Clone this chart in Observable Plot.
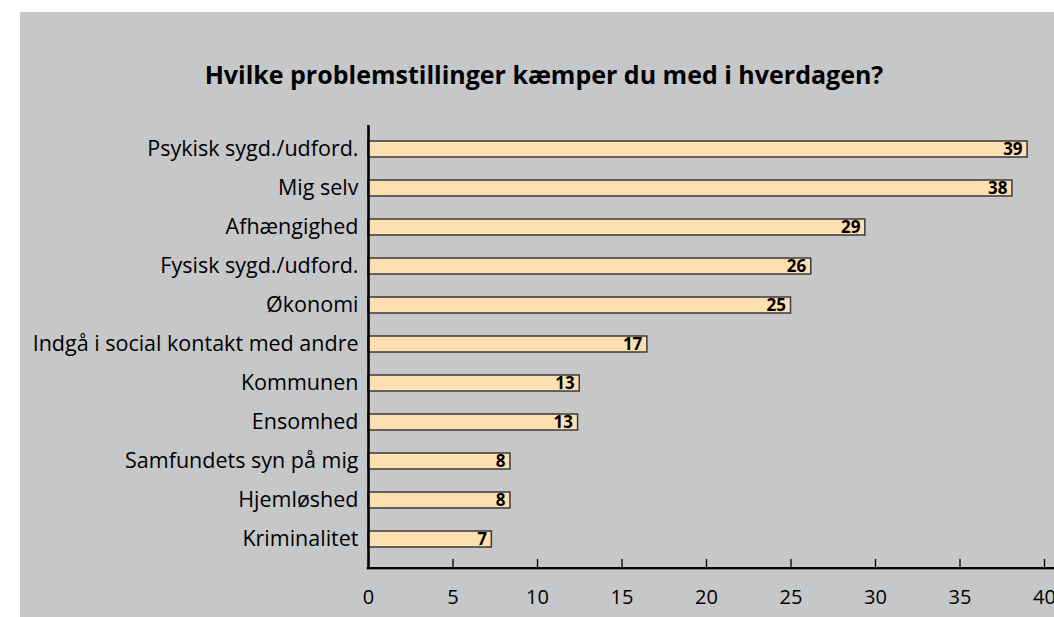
<!DOCTYPE html>
<html><head><meta charset="utf-8">
<script src="https://cdn.jsdelivr.net/npm/d3@7"></script>
<script src="https://cdn.jsdelivr.net/npm/@observablehq/plot@0.6"></script>
<style>
html,body{margin:0;padding:0;background:#fff;width:1054px;height:617px;overflow:hidden;}
#panel{position:absolute;left:20px;top:12px;width:1034px;height:605px;background:#c6c7c9;overflow:hidden;}
#title{position:absolute;left:0;top:47px;width:1034px;padding-left:14px;box-sizing:border-box;text-align:center;font-family:"Open Sans",sans-serif;font-weight:700;font-size:25px;line-height:30px;color:#000;white-space:nowrap;}
#chart{position:absolute;left:0;top:100px;}
</style></head><body>
<div id="panel"><div id="title">Hvilke problemstillinger kæmper du med i hverdagen?</div><div id="chart"></div></div>
<script>
const categories = [
  "Psykisk sygd./udford.",
  "Mig selv",
  "Afhængighed",
  "Fysisk sygd./udford.",
  "Økonomi",
  "Indgå i social kontakt med andre",
  "Kommunen",
  "Ensomhed",
  "Samfundets syn på mig",
  "Hjemløshed",
  "Kriminalitet"
];
const values = [39.0, 38.1, 29.4, 26.2, 25.0, 16.5, 12.5, 12.4, 8.4, 8.4, 7.3];
const labels = [39, 38, 29, 26, 25, 17, 13, 13, 8, 8, 7];
const xTicks = [0, 5, 10, 15, 20, 25, 30, 35, 40];

const data = categories.map((c, i) => ({category: c, value: values[i], label: labels[i]}));

const W = 1034, H = 505, mT = 13, mB = 49;
const frameH = H - mT - mB;

const plot = Plot.plot({
  width: W, height: H,
  marginTop: mT, marginBottom: mB, marginLeft: 348, marginRight: 10,
  style: {background: "transparent", fontFamily: "'Open Sans', sans-serif", fontSize: "20px", color: "#000", overflow: "visible"},
  x: {domain: [0, 40], label: null},
  y: {domain: categories, range: [27, 438], paddingInner: 0.58, paddingOuter: 0, label: null},
  marks: [
    Plot.barX(data, {x: "value", y: "category", fill: "#fedfb2", stroke: "#3a3a3a", strokeWidth: 1.5}),
    Plot.text(data, {x: "value", y: "category", text: "label", textAnchor: "end", dx: -5, fontWeight: "bold", fontSize: 17, fill: "#000"}),
    Plot.ruleX(xTicks, {x: d => d, insetTop: frameH - 9, stroke: "#000", strokeWidth: 1.3}),
    Plot.rect([0], {x1: 0, x2: 40, insetTop: frameH - 1, insetBottom: -1.3, insetRight: -14, insetLeft: -1.3, fill: "#000"}),
    Plot.ruleX([0], {stroke: "#000", strokeWidth: 2.6, insetBottom: -1}),
    Plot.axisX(xTicks, {tickSize: 0, tickPadding: 21, fontSize: 20, label: null}),
    Plot.axisY({tickSize: 0, tickPadding: 10, fontSize: 21.5, label: null})
  ]
});
document.getElementById("chart").appendChild(plot);
</script>
</body></html>
